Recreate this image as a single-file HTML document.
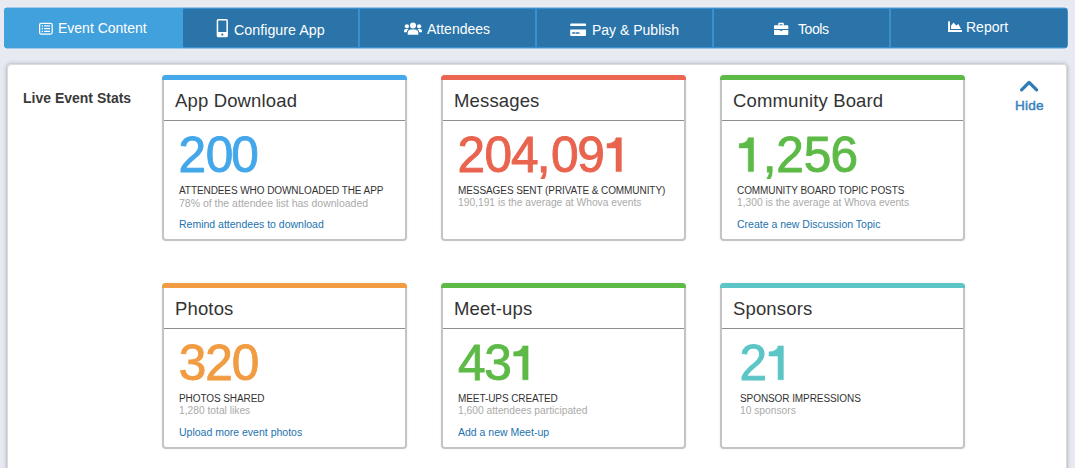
<!DOCTYPE html>
<html><head><meta charset="utf-8">
<style>
*{margin:0;padding:0;box-sizing:border-box}
html,body{width:1075px;height:468px;overflow:hidden;background:#e8eaf1;font-family:"Liberation Sans",sans-serif}
.nav{position:absolute;left:4px;top:7px;width:1064px;height:42px;background:#3a90cc;border-radius:4.5px;overflow:hidden}
.tab{position:absolute;top:2px;height:38px;background:#2a74a9}
.tab.active{background:#41a1dc;top:0;height:42px}
.edge{position:absolute;left:4px;width:1064px;height:1px}
.t{position:absolute;color:#fff;font-size:14px;line-height:16px;white-space:nowrap}
.ic{position:absolute}
.panel{position:absolute;left:6px;top:63px;width:1062px;height:430px;background:#fff;border:1px solid #c7c8cb;border-top-color:#ccced3;border-radius:5px;box-shadow:inset 1px 1px 0 #dcdcdc,inset -1px 0 0 #dcdcdc,0 0 4px rgba(40,50,70,.18)}
.les{position:absolute;left:23px;top:90px;font-weight:bold;font-size:14px;color:#3a3a3a;line-height:16px;white-space:nowrap}
.hide{position:absolute;left:1015px;top:98px;font-weight:normal;-webkit-text-stroke:.45px #3683bd;font-size:13.6px;letter-spacing:.2px;color:#3683bd;line-height:16px}
.card{position:absolute;width:245px;height:166px;background:#fff;border:2px solid #c4c4c4;border-top-width:1px;border-radius:4px;box-shadow:0 0 3px rgba(0,0,0,.07)}
.card .bar{position:absolute;left:-2px;right:-2px;top:-1px;height:5px;border-radius:4px 4px 0 0}
.card .hd{position:absolute;left:0;right:0;top:4px;height:41px;border-bottom:1px solid #8e8e8e}
.card .ttl{position:absolute;left:11px;top:15px;font-size:18.5px;letter-spacing:.15px;line-height:20px;color:#333;white-space:nowrap}
.card .num{position:absolute;left:14px;top:53px;font-size:52px;line-height:50px;white-space:nowrap;transform:scaleX(.935);transform-origin:0 0}
.card .lbl{position:absolute;left:15px;top:109px;font-size:10px;letter-spacing:-.08px;line-height:12px;color:#333;white-space:nowrap}
.card .sub{position:absolute;left:15px;top:121px;font-size:10.25px;line-height:12px;color:#aaa;white-space:nowrap}
.card .lnk{position:absolute;left:15px;top:142px;font-size:10.5px;line-height:12px;color:#2272b0;white-space:nowrap}
</style></head><body>
<div class="nav">
  <div class="tab active" style="left:0;width:179px"></div>
  <div class="tab" style="left:179px;width:175px"></div>
  <div class="tab" style="left:356px;width:175px"></div>
  <div class="tab" style="left:533px;width:175px"></div>
  <div class="tab" style="left:710px;width:175px"></div>
  <div class="tab" style="left:887px;width:176px"></div>
</div>
<div class="edge" style="top:7px;background:rgba(236,238,244,.55)"></div><div class="edge" style="top:48px;background:rgba(236,238,244,.55)"></div><div class="edge" style="top:6px;background:rgba(255,255,255,.18)"></div><div class="edge" style="top:49px;background:rgba(255,255,255,.18)"></div>
<!-- nav icons & text (absolute page coords) -->
<svg class="ic" style="left:39px;top:22px" width="15" height="14" viewBox="0 0 15 14"><rect x="0.6" y="1.45" width="12.6" height="10.6" rx="1.5" fill="none" stroke="#fff" stroke-width="1.25"/><g fill="#fff"><rect x="2.7" y="3.3" width="1.3" height="1.3"/><rect x="2.7" y="6" width="1.3" height="1.3"/><rect x="2.7" y="8.8" width="1.3" height="1.3"/><rect x="5.1" y="3.3" width="5.9" height="1.2"/><rect x="5.1" y="6" width="5.9" height="1.2"/><rect x="5.1" y="8.8" width="5.9" height="1.2"/></g></svg>
<div class="t" style="left:58px;top:20px">Event Content</div>
<svg class="ic" style="left:216px;top:19px" width="13" height="19" viewBox="0 0 13 19"><path fill="#fff" fill-rule="evenodd" d="M2.2 0h8.2a1.5 1.5 0 0 1 1.5 1.5v15.2a1.5 1.5 0 0 1-1.5 1.5h-8.2a1.5 1.5 0 0 1-1.5-1.5v-15.2a1.5 1.5 0 0 1 1.5-1.5zM2.2 1.6v11.3h8.2v-11.3zM5.2 15.6a1.1 1.1 0 1 0 2.2 0a1.1 1.1 0 1 0 -2.2 0z"/></svg>
<div class="t" style="left:234px;top:22px;font-size:14.3px">Configure App</div>
<svg class="ic" style="left:404px;top:22px" width="18" height="13" viewBox="0 0 18 13" fill="#fff"><circle cx="9" cy="3.5" r="3"/><circle cx="2.9" cy="4.3" r="2.1"/><circle cx="15.1" cy="4.3" r="2.1"/><path d="M3.7 12.8V10.9C3.7 9 5.2 7.6 7.1 7.6H10.9C12.8 7.6 14.3 9 14.3 10.9V12.8z"/><path d="M0 10.2V9C0 7.8 0.8 7 1.9 7H3.6C3.9 7 4.2 7.05 4.4 7.15 3.5 7.9 2.9 9 2.8 10.2z"/><path d="M18 10.2V9C18 7.8 17.2 7 16.1 7H14.4C14.1 7 13.8 7.05 13.6 7.15 14.5 7.9 15.1 9 15.2 10.2z"/></svg>
<div class="t" style="left:427px;top:21px">Attendees</div>
<svg class="ic" style="left:570px;top:23px" width="17" height="13" viewBox="0 0 17 13"><rect x="0.2" y="0.5" width="15.8" height="2.6" rx="0.9" fill="#fff"/><path fill="#fff" fill-rule="evenodd" d="M0.2 6.4h15.8v5.6a0.9 0.9 0 0 1-0.9 0.9h-14a0.9 0.9 0 0 1-0.9-0.9zM2.2 9.2h2.9v1.6h-2.9zM5.6 9.2h3.9v1.6h-3.9z"/></svg>
<div class="t" style="left:592px;top:22px">Pay &amp; Publish</div>
<svg class="ic" style="left:774px;top:22px" width="15" height="14" viewBox="0 0 15 14" fill="#fff"><path fill-rule="evenodd" d="M4.2 3.4V2c0-0.7 0.5-1.2 1.2-1.2h3.3c0.7 0 1.2 0.5 1.2 1.2v1.4h-1.4v-1.2h-2.9v1.2z"/><path d="M0.8 3.2h12.7c0.45 0 0.8 0.35 0.8 0.8v3h-5.8v-0.1h-2.7v0.1h-5.8v-3c0-0.45 0.35-0.8 0.8-0.8z"/><path d="M0 8h5.8v0.8h2.7v-0.8h5.8v4.2c0 0.45-0.35 0.8-0.8 0.8h-12.7c-0.45 0-0.8-0.35-0.8-0.8z"/></svg>
<div class="t" style="left:798px;top:21px;letter-spacing:-.4px">Tools</div>
<svg class="ic" style="left:948px;top:21px" width="15" height="12" viewBox="0 0 15 12" fill="#fff"><rect x="0.1" y="0.3" width="1.9" height="10.7"/><rect x="0.1" y="9" width="13.9" height="2"/><path d="M3 7.9V4.8L5.5 1.4 8.3 4.6 10.4 3 13 7.9z"/></svg>
<div class="t" style="left:966px;top:19px">Report</div>

<div class="panel"></div>
<div class="les">Live Event Stats</div>
<svg class="ic" style="left:1019px;top:79px" width="21" height="14" viewBox="0 0 21 14"><path d="M2.6 10.8L10.1 3.4 17.6 10.8" fill="none" stroke="#2e7db9" stroke-width="3.3" stroke-linecap="round" stroke-linejoin="round"/></svg>
<div class="hide">Hide</div>

<div class="card" style="left:162px;top:75px"><div class="bar" style="background:#45a8ea"></div><div class="hd"></div><div class="ttl">App Download</div><div class="lbl">ATTENDEES WHO DOWNLOADED THE APP</div><div class="sub" style="font-size:10.5px">78% of the attendee list has downloaded</div><div class="lnk">Remind attendees to download</div></div>
<div class="card" style="left:441px;top:75px"><div class="bar" style="background:#eb6550"></div><div class="hd"></div><div class="ttl">Messages</div><div class="lbl">MESSAGES SENT (PRIVATE &amp; COMMUNITY)</div><div class="sub">190,191 is the average at Whova events</div></div>
<div class="card" style="left:720px;top:75px"><div class="bar" style="background:#5dba47"></div><div class="hd"></div><div class="ttl">Community Board</div><div class="lbl">COMMUNITY BOARD TOPIC POSTS</div><div class="sub">1,300 is the average at Whova events</div><div class="lnk">Create a new Discussion Topic</div></div>

<div class="card" style="left:162px;top:283px"><div class="bar" style="background:#f19b42"></div><div class="hd"></div><div class="ttl">Photos</div><div class="lbl">PHOTOS SHARED</div><div class="sub">1,280 total likes</div><div class="lnk">Upload more event photos</div></div>
<div class="card" style="left:441px;top:283px"><div class="bar" style="background:#5dba47"></div><div class="hd"></div><div class="ttl">Meet-ups</div><div class="lbl">MEET-UPS CREATED</div><div class="sub">1,600 attendees participated</div><div class="lnk">Add a new Meet-up</div></div>
<div class="card" style="left:720px;top:283px"><div class="bar" style="background:#5cc5c5"></div><div class="hd"></div><div class="ttl">Sponsors</div><div class="lbl" style="left:18px">SPONSOR IMPRESSIONS</div><div class="sub" style="left:18px">10 sponsors</div></div>
<svg style="position:absolute;left:0;top:0" width="1075" height="468" font-family="Liberation Sans" font-size="49.6" stroke-width="0.9">
<text x="178.54 205.68 231.18" y="171.6" fill="#43a7ea" stroke="#43a7ea">200</text>
<text x="457.54 484.48 510.98 536.70 550.88 577.20" y="171.6" fill="#e9644f" stroke="#e9644f">204,09</text>
<path fill="#e9644f" stroke="#e9644f" stroke-width="0.5" d="M616.00 137.70H621.40V171.6H616.00V147.90H607.00V143.60C611.40 143.60 615.20 141.80 616.00 137.70Z"/>
<text x="762.80 776.14 803.74 830.61" y="171.6" fill="#5dba47" stroke="#5dba47">,256</text>
<path fill="#5dba47" stroke="#5dba47" stroke-width="0.5" d="M748.20 137.70H753.60V171.6H748.20V147.90H739.20V143.60C743.60 143.60 747.40 141.80 748.20 137.70Z"/>
<text x="178.63 205.14 231.78" y="379.8" fill="#f19c42" stroke="#f19c42">320</text>
<text x="457.88 484.13" y="379.8" fill="#5dba47" stroke="#5dba47">43</text>
<path fill="#5dba47" stroke="#5dba47" stroke-width="0.5" d="M522.70 345.90H528.10V379.8H522.70V356.10H513.70V351.80C518.10 351.80 521.90 350.00 522.70 345.90Z"/>
<text x="739.49" y="379.8" fill="#5cc5c5" stroke="#5cc5c5">2</text>
<path fill="#5cc5c5" stroke="#5cc5c5" stroke-width="0.5" d="M778.00 345.90H783.40V379.8H778.00V356.10H769.00V351.80C773.40 351.80 777.20 350.00 778.00 345.90Z"/>
</svg>
</body></html>
